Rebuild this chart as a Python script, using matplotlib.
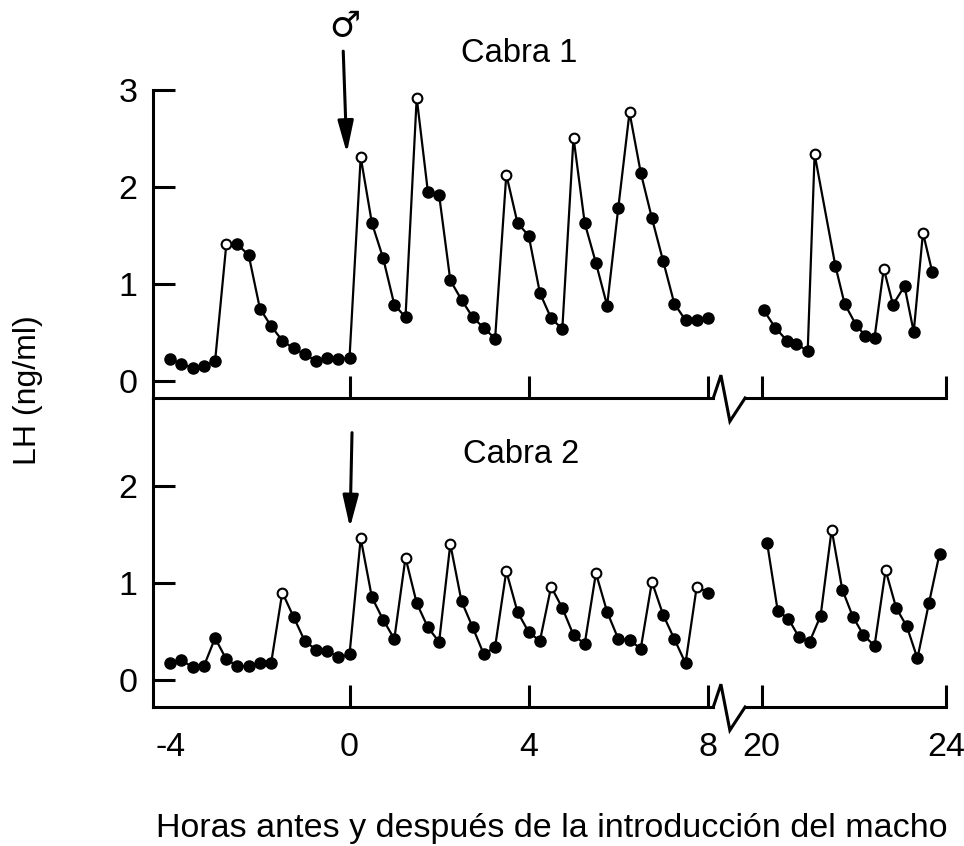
import matplotlib
matplotlib.use("Agg")
import matplotlib.pyplot as plt
from matplotlib.patches import ArrowStyle

plt.rcParams['font.family'] = ['Liberation Sans', 'DejaVu Sans']
plt.rcParams['axes.unicode_minus'] = False

# horas de muestreo (cada 15 min) de -4 a 8 h
t_left = [-4.0, -3.75, -3.5, -3.25, -3.0, -2.75, -2.5, -2.25, -2.0, -1.75,
          -1.5, -1.25, -1.0, -0.75, -0.5, -0.25, 0.0, 0.25, 0.5, 0.75,
          1.0, 1.25, 1.5, 1.75, 2.0, 2.25, 2.5, 2.75, 3.0, 3.25,
          3.5, 3.75, 4.0, 4.25, 4.5, 4.75, 5.0, 5.25, 5.5, 5.75,
          6.0, 6.25, 6.5, 6.75, 7.0, 7.25, 7.5, 7.75, 8.0]

# Cabra 1
lh1 = [0.23, 0.18, 0.14, 0.16, 0.21, 1.41, 1.41, 1.30, 0.75, 0.57,
       0.42, 0.34, 0.28, 0.21, 0.24, 0.23, 0.24, 2.31, 1.63, 1.27,
       0.79, 0.66, 2.92, 1.95, 1.92, 1.04, 0.84, 0.66, 0.55, 0.44,
       2.13, 1.63, 1.50, 0.91, 0.65, 0.54, 2.51, 1.63, 1.22, 0.78,
       1.79, 2.77, 2.15, 1.68, 1.24, 0.80, 0.63, 0.63, 0.65]
pulse1 = [5, 17, 22, 30, 36, 41]
t1_right = [20.05, 20.3, 20.55, 20.75, 21.0, 21.15, 21.6, 21.8, 22.05,
            22.25, 22.45, 22.65, 22.85, 23.1, 23.3, 23.5, 23.7]
lh1_right = [0.73, 0.55, 0.42, 0.39, 0.31, 2.34, 1.19, 0.80, 0.58,
             0.47, 0.45, 1.16, 0.79, 0.98, 0.51, 1.53, 1.13]
pulse1_right = [5, 11, 15]

# Cabra 2
lh2 = [0.175, 0.20, 0.13, 0.14, 0.43, 0.21, 0.14, 0.14, 0.175, 0.17,
       0.90, 0.65, 0.40, 0.31, 0.30, 0.23, 0.26, 1.46, 0.85, 0.62,
       0.42, 1.26, 0.79, 0.54, 0.39, 1.40, 0.81, 0.54, 0.26, 0.34,
       1.12, 0.70, 0.49, 0.40, 0.96, 0.74, 0.46, 0.37, 1.10, 0.70,
       0.42, 0.41, 0.32, 1.01, 0.67, 0.42, 0.17, 0.96, 0.90]
pulse2 = [10, 17, 21, 25, 30, 34, 38, 43, 47]
t2_right = [20.12, 20.35, 20.58, 20.81, 21.04, 21.28, 21.52, 21.75, 21.98,
            22.21, 22.45, 22.69, 22.92, 23.15, 23.38, 23.63, 23.86]
lh2_right = [1.41, 0.71, 0.63, 0.44, 0.39, 0.66, 1.55, 0.93, 0.65,
             0.46, 0.35, 1.13, 0.74, 0.55, 0.22, 0.79, 1.30]
pulse2_right = [6, 11]

W, H = 964, 846
fig = plt.figure(figsize=(W / 100, H / 100), dpi=100)

def fx(px):
    return px / W

def fy(py):
    return 1 - py / H

LW = 2.2
xl_left = (-4.386, 8.12)
xl_right = (19.64, 24.0)

def draw_series(ax, t, v, pulses):
    ax.plot(t, v, color='black', lw=1.6, zorder=2, clip_on=False)
    tf = [x for i, x in enumerate(t) if i not in pulses]
    vf = [y for i, y in enumerate(v) if i not in pulses]
    tp = [t[i] for i in pulses]
    vp = [v[i] for i in pulses]
    ax.plot(tf, vf, 'o', color='black', ms=8, zorder=3, clip_on=False)
    ax.plot(tp, vp, 'o', mfc='white', mec='black', mew=1.5, ms=7,
            zorder=4, clip_on=False)

def style(ax, left_spine):
    for s in ['top', 'right']:
        ax.spines[s].set_visible(False)
    ax.spines['left'].set_visible(left_spine)
    ax.spines['left'].set_linewidth(LW)
    ax.spines['bottom'].set_linewidth(LW)
    ax.tick_params(direction='in', length=16, width=LW, labelsize=24.5)
    ax.tick_params(axis='x', pad=18)
    ax.tick_params(axis='y', pad=11)
    ax.patch.set_alpha(0)

def zigzag(ax, ylim):
    x0 = xl_left[1]
    y0 = ylim[0]
    ax.plot([x0, x0 + 0.17, x0 + 0.37, x0 + 0.71],
            [y0, y0 + 0.235, y0 - 0.24, y0],
            color='black', lw=LW, clip_on=False, solid_joinstyle='miter')

# panel superior
yl1 = (-0.171, 3.0)
ax1 = fig.add_axes([fx(153), fy(398), fx(713.3 - 153), fy(90) - fy(398)])
ax1r = fig.add_axes([fx(745), fy(398), fx(946 - 745), fy(90) - fy(398)])
# panel inferior
yl2 = (-0.282, 2.908)
ax2 = fig.add_axes([fx(153), fy(707), fx(713.3 - 153), fy(398) - fy(707)])
ax2r = fig.add_axes([fx(745), fy(707), fx(946 - 745), fy(398) - fy(707)])

for ax, yl in [(ax1, yl1), (ax2, yl2)]:
    style(ax, True)
    ax.set_xlim(*xl_left)
    ax.set_ylim(*yl)
    ax.set_xticks([-4, 0, 4, 8])
    ax.xaxis.get_major_ticks()[0].tick1line.set_visible(False)
    zigzag(ax, yl)
for ax, yl in [(ax1r, yl1), (ax2r, yl2)]:
    style(ax, False)
    ax.set_xlim(*xl_right)
    ax.set_ylim(*yl)
    ax.set_xticks([20, 24])
    ax.set_yticks([])

ax1.set_yticks([0, 1, 2, 3])
ax2.set_yticks([0, 1, 2])
ax1.set_xticklabels([])
ax1r.set_xticklabels([])

draw_series(ax1, t_left, lh1, pulse1)
draw_series(ax1r, t1_right, lh1_right, pulse1_right)
draw_series(ax2, t_left, lh2, pulse2)
draw_series(ax2r, t2_right, lh2_right, pulse2_right)

head = ArrowStyle('-|>', head_length=0.65, head_width=0.16)
ax1.annotate('', xy=(-0.06, 2.35), xytext=(-0.14, 3.40),
             arrowprops=dict(arrowstyle=head, lw=2.2, color='black',
                             mutation_scale=30, shrinkA=0, shrinkB=0),
             annotation_clip=False)
ax2.annotate('', xy=(0.01, 1.57), xytext=(0.056, 2.55),
             arrowprops=dict(arrowstyle=head, lw=2.2, color='black',
                             mutation_scale=30, shrinkA=0, shrinkB=0),
             annotation_clip=False)

ax1.text(-0.1, 3.66, '\u2642', ha='center', va='center', fontsize=25,
         family=['DejaVu Sans'], clip_on=False)
ax1.text(3.78, 3.38, 'Cabra 1', ha='center', va='center', fontsize=23.5,
         clip_on=False)
ax2.text(3.84, 2.32, 'Cabra 2', ha='center', va='center', fontsize=23.5,
         clip_on=False)

fig.text(fx(552), fy(828), 'Horas antes y después de la introducción del macho',
         ha='center', va='center', fontsize=24.5)
fig.text(fx(28), fy(390), 'LH (ng/ml)', ha='center', va='center',
         rotation=90, fontsize=23)

fig.savefig('out.png', dpi=100)
